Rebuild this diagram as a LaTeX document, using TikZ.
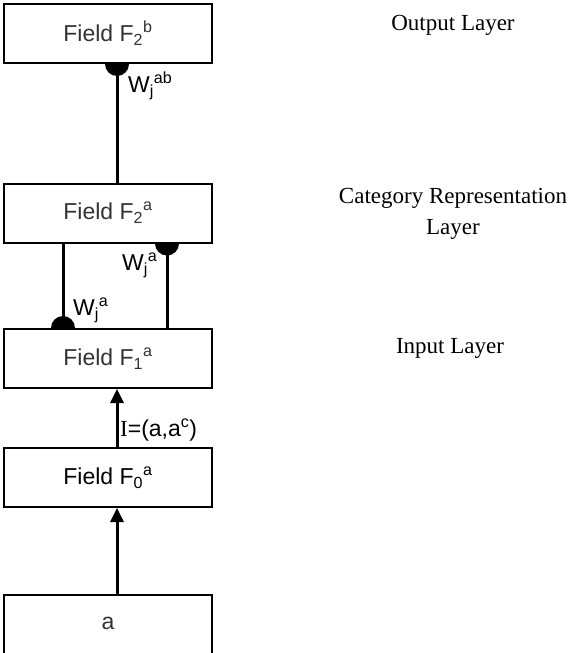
\documentclass[tikz,border=0pt]{standalone}
\usepackage{fontspec}
\setmainfont{Liberation Serif}
\setsansfont{Liberation Sans}
\usetikzlibrary{arrows.meta,backgrounds}
\newcommand{\sbsp}[2]{\textsubscript{#1}\textsuperscript{#2}}
\tikzset{
  field/.style={draw=black, line width=2pt, fill=white, minimum width=208pt, minimum height=59pt,
    inner sep=0pt, font=\sffamily\fontsize{23}{25}\selectfont, text=black!80},
  conn/.style={line width=3pt},
  arr/.style={line width=3pt, -{Triangle[length=14pt,width=13pt]}},
  wlab/.style={font=\sffamily\fontsize{23}{25}\selectfont, inner sep=0pt, anchor=west},
  layer/.style={font=\fontsize{23}{31}\selectfont, align=center, inner sep=0pt},
  disk/.style={fill=black}
}
\begin{document}
\begin{tikzpicture}[x=1pt,y=-1pt]
\useasboundingbox (0,0) rectangle (573,653);
\node[field] (F2b) at (108,33.5) {Field F\sbsp{2}{b}};
\node[field] (F2a) at (108,213) {Field F\sbsp{2}{a}};
\node[field] (F1a) at (108,358.5) {Field F\sbsp{1}{a}};
\node[field, text=black] (F0a) at (108,477.5) {Field F\sbsp{0}{a}};
\node[field, minimum height=80pt] (in) at (108,635) {};
\node[font=\sffamily\fontsize{23}{25}\selectfont, text=black!80] (inlab) at (108,623) {a};

\coordinate (cx1) at (117,0);
\coordinate (cx2) at (63,0);
\coordinate (cx3) at (167,0);

\coordinate (d1) at (F2b.south -| cx1);
\coordinate (d2) at (F1a.north -| cx2);
\coordinate (d3) at (F2a.south -| cx3);

\begin{scope}[on background layer]
\fill[disk] (d1) circle[radius=12pt];
\fill[disk] (d2) circle[radius=12pt];
\fill[disk] (d3) circle[radius=12pt];
\draw[conn] (d1) -- (F2a.north -| cx1);
\draw[conn] (F2a.south -| cx2) -- (d2);
\draw[conn] (d3) -- (F1a.north -| cx3);
\end{scope}

\draw[arr] (F0a.north -| cx1) -- (F1a.south -| cx1);
\draw[arr] (in.north -| cx1) -- (F0a.south -| cx1);

\node[wlab] (wab) at (128,86) {W\sbsp{j}{ab}};
\node[wlab] (wa1) at (122,265) {W\sbsp{j}{a}};
\node[wlab] (wa2) at (73,310) {W\sbsp{j}{a}};
\node[wlab, text=black] (ilab) at (120,430) {{\rmfamily I}=(a,a\textsuperscript{c})};

\node[layer] (out) at (453,25) {Output Layer};
\node[layer] (cat) at (453,214) {Category Representation\\Layer};
\node[layer] (inp) at (450,348) {Input Layer};
\end{tikzpicture}
\end{document}
